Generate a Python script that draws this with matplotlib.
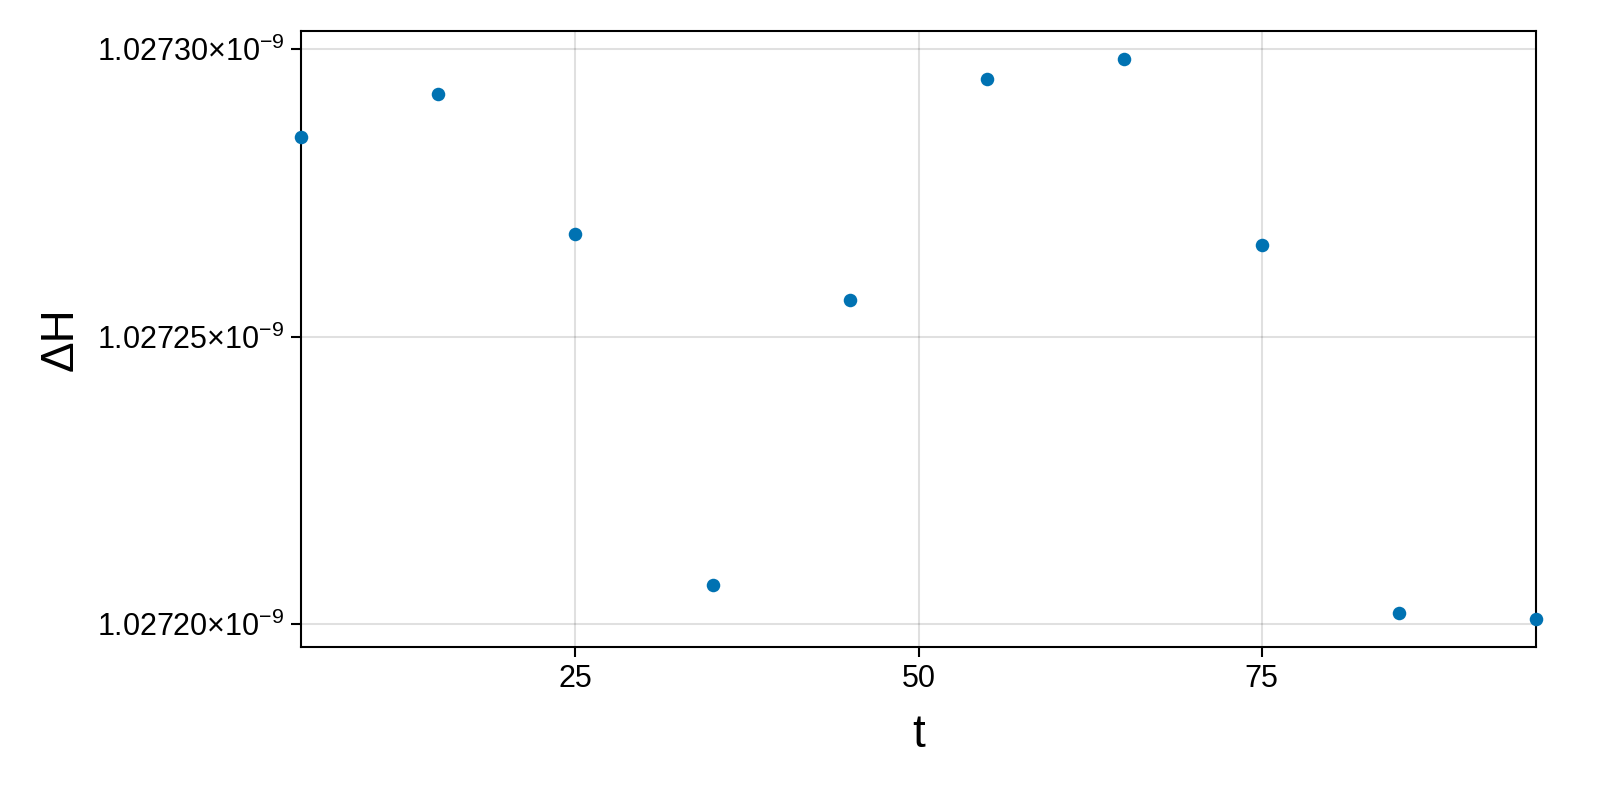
import matplotlib
matplotlib.use("Agg")
import matplotlib.pyplot as plt
from matplotlib.ticker import FuncFormatter

plt.rcParams['font.family'] = ['Liberation Sans', 'DejaVu Sans']
plt.rcParams['mathtext.fontset'] = 'custom'
plt.rcParams['mathtext.rm'] = 'Liberation Sans'
plt.rcParams['mathtext.it'] = 'Liberation Sans'

# данные
t = [5, 15, 25, 35, 45, 55, 65, 75, 85, 95]
dH = [1.0272848e-9, 1.0272922e-9, 1.0272678e-9, 1.0272068e-9, 1.0272563e-9,
      1.0272949e-9, 1.0272983e-9, 1.0272659e-9, 1.0272019e-9, 1.0272009e-9]
x_ticks = [25, 50, 75]
y_ticks = [1.02720e-9, 1.02725e-9, 1.02730e-9]


def fmt_y(v, pos):
    return '%.5f' % (v * 1e9) + '×10$^{−9}$'


fig = plt.figure(figsize=(16, 8), dpi=100)
ax = fig.add_axes([301 / 1600, 153 / 800, 1235 / 1600, 616 / 800])

ax.scatter(t, dH, s=95, color='#0072B2', zorder=3, clip_on=False, linewidths=0)

ymin, ymax = min(dH), max(dH)
pad = (ymax - ymin) * 0.05
ax.set_xlim(5, 95)
ax.set_ylim(ymin - pad, ymax + pad)

ax.set_xticks(x_ticks)
ax.set_yticks(y_ticks)
ax.yaxis.set_major_formatter(FuncFormatter(fmt_y))
ax.grid(True, color='black', alpha=0.12, linewidth=1.5)
ax.set_axisbelow(True)

ax.tick_params(direction='out', length=7, width=1.5, labelsize=22, pad=5)
for sp in ax.spines.values():
    sp.set_linewidth(1.5)

ax.set_xlabel('t', fontsize=33, labelpad=14)
ax.set_ylabel('ΔH', fontsize=33, labelpad=10)

fig.savefig('out.png', dpi=100)
